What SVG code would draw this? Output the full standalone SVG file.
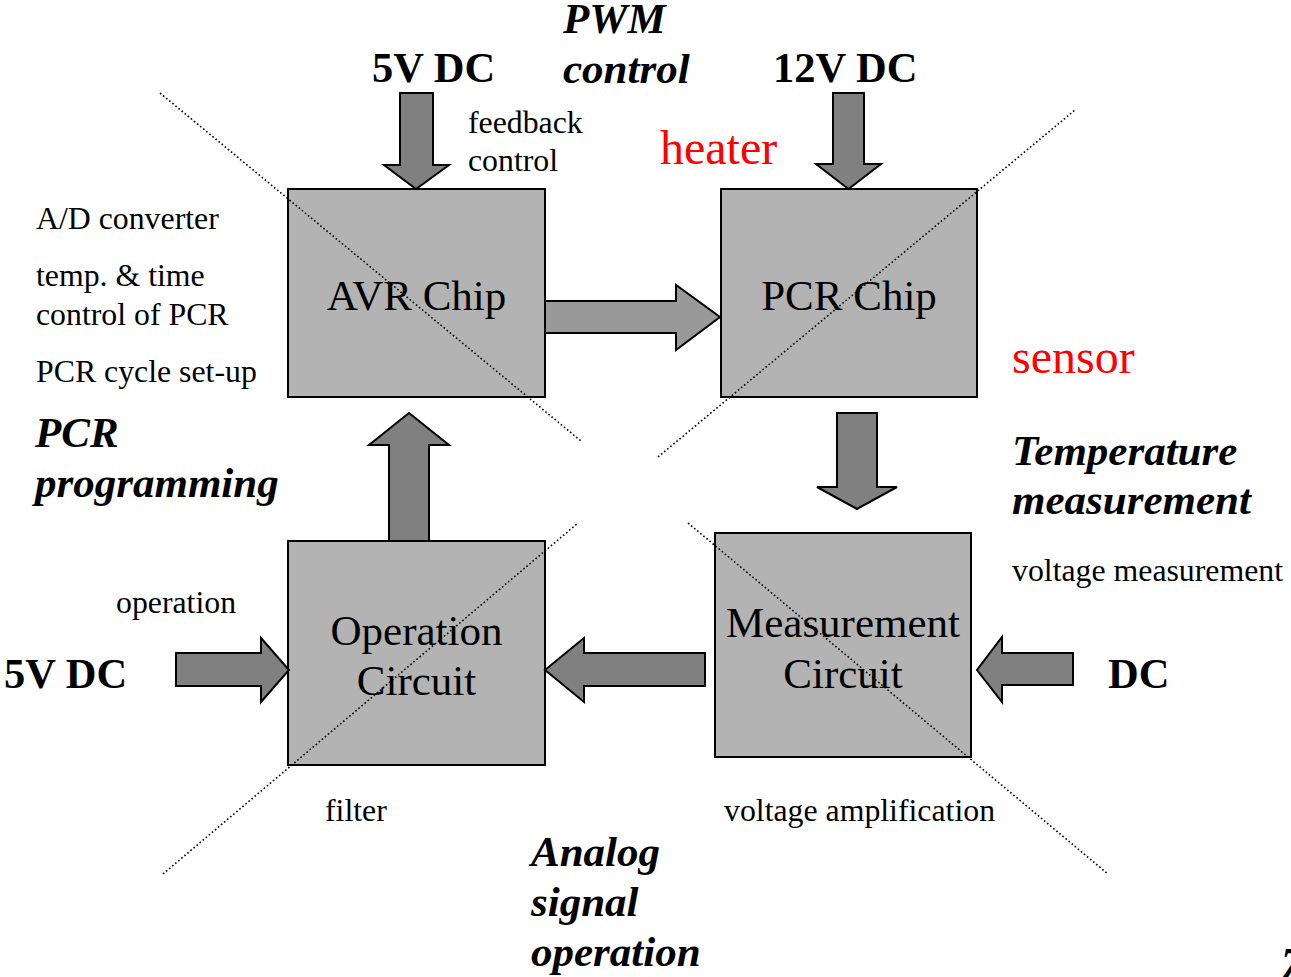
<svg xmlns="http://www.w3.org/2000/svg" width="1291" height="977" viewBox="0 0 1291 977">
<style>
.box{fill:#b3b3b3;stroke:#000;stroke-width:2}
.arr{fill:#808080;stroke:#000;stroke-width:2;stroke-linejoin:miter}
.arr2{fill:#999999;stroke:#000;stroke-width:2}
.dot{stroke:#000;stroke-width:1.6;stroke-dasharray:1.6 2.4;fill:none}
text{font-family:"Liberation Serif","Times New Roman",serif;fill:#000}
.lbl{font-size:43px}
.sm{font-size:31.8px}
.red{font-size:48px;fill:#ff0000}
.bi{font-size:43px;font-weight:bold;font-style:italic}
.b{font-size:42.5px;font-weight:bold}
</style>
<rect width="1291" height="977" fill="#fff"/>
<g id="avr"><rect class="box" x="288" y="189" width="257" height="208"/><text class="lbl" x="416.5" y="310" text-anchor="middle">AVR Chip</text></g>
<g id="pcr"><rect class="box" x="721" y="189" width="256" height="208"/><text class="lbl" x="849" y="310" text-anchor="middle">PCR Chip</text></g>
<g id="operation"><rect class="box" x="288" y="541" width="257" height="224"/><text class="lbl" x="416.5" y="645" text-anchor="middle">Operation</text><text class="lbl" x="416.5" y="695" text-anchor="middle">Circuit</text></g>
<g id="measurement"><rect class="box" x="715" y="533" width="256" height="224"/><text class="lbl" x="843" y="637" text-anchor="middle">Measurement</text><text class="lbl" x="843" y="688" text-anchor="middle">Circuit</text></g>
<g id="connectors">
<polygon class="arr" points="400,93 433,93 433,165 449,165 416,189 384,165 400,165"/>
<polygon class="arr" points="833,93 864,93 864,164 881,164 848.5,189 816,164 833,164"/>
<polygon class="arr2" points="545,301 676,301 676,285 720,317 676,350 676,333 545,333"/>
<polygon class="arr" points="837,413 877,413 877,487 897,487 857,509 817,487 837,487"/>
<polygon class="arr" points="389,541 429,541 429,445 449,445 409,413 369,445 389,445"/>
<polygon class="arr" points="705,653 705,686 584,686 584,702 545,670 584,638 584,653"/>
<polygon class="arr" points="176,653 261,653 261,638 289,670 261,702 261,686 176,686"/>
<polygon class="arr" points="1073,653 1073,685 1002,685 1002,702 977,670 1002,637 1002,653"/>
</g>
<g id="guides">
<line class="dot" x1="160" y1="93" x2="581" y2="441"/>
<line class="dot" x1="658" y1="457" x2="1075" y2="110"/>
<line class="dot" x1="163" y1="874" x2="578" y2="523"/>
<line class="dot" x1="688" y1="523" x2="1108" y2="874"/>
</g>
<g id="labels">
<text class="b" x="372" y="82">5V DC</text>
<text class="b" x="773" y="82">12V DC</text>
<text class="bi" x="563" y="33">PWM</text>
<text class="bi" x="563" y="83">control</text>
<text class="sm" x="468" y="133">feedback</text>
<text class="sm" x="468" y="171">control</text>
<text class="red" x="660" y="164">heater</text>
<text class="red" x="1012" y="373">sensor</text>
<text class="sm" x="36" y="229">A/D converter</text>
<text class="sm" x="36" y="286">temp. &amp; time</text>
<text class="sm" x="36" y="325">control of PCR</text>
<text class="sm" x="36" y="382">PCR cycle set-up</text>
<text class="bi" x="35" y="447">PCR</text>
<text class="bi" x="35" y="497">programming</text>
<text class="bi" x="1012" y="465">Temperature</text>
<text class="bi" x="1012" y="514">measurement</text>
<text class="sm" x="1012" y="581">voltage measurement</text>
<text class="sm" x="116" y="613">operation</text>
<text class="b" x="4" y="688">5V DC</text>
<text class="b" x="1108" y="688">DC</text>
<text class="sm" x="325" y="821">filter</text>
<text class="sm" x="724" y="821">voltage amplification</text>
<text class="bi" x="531" y="866">Analog</text>
<text class="bi" x="531" y="916">signal</text>
<text class="bi" x="531" y="966">operation</text>
<text class="bi" x="1281" y="977">7</text>
</g>
</svg>
